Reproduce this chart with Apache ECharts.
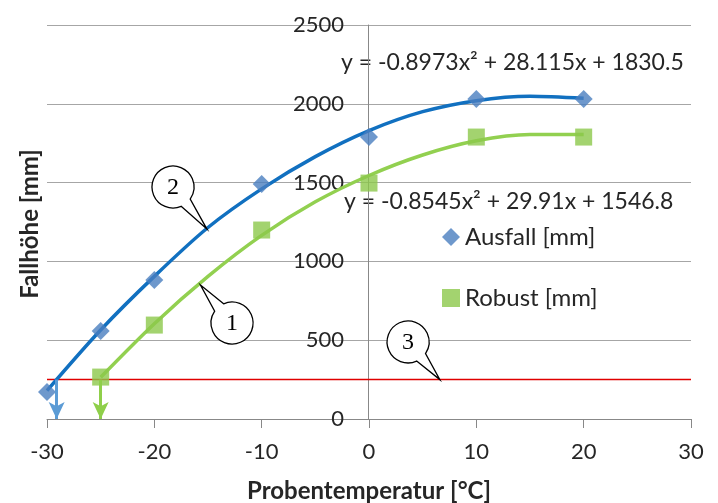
<!DOCTYPE html>
<html>
<head>
<meta charset="utf-8">
<script src="https://cdn.jsdelivr.net/npm/echarts@6/dist/echarts.min.js"></script>
<style>
  html, body { margin: 0; padding: 0; background: #fff; }
  #main { width: 718px; height: 503px; }
</style>
</head>
<body>
<div id="main"></div>
<script>
var temps = [-30, -25, -20, -10, 0, 10, 20];
var ausfall = [171, 558, 882, 1491, 1789, 2030, 2030];
var robustTemps = [-25, -20, -10, 0, 10, 20];
var robust = [266, 596, 1199, 1497, 1789, 1789];
var trendAusfallX = [-30, -25, -20, -15, -10, -5, 0, 5, 10, 15, 20];
var trendAusfall = [180, 565, 905, 1215, 1460, 1665, 1830, 1950, 2020, 2048, 2035];
var trendRobustX = [-25, -20, -15, -10, -5, 0, 5, 10, 15, 20];
var trendRobust = [265, 605, 905, 1165, 1378, 1545, 1675, 1765, 1805, 1805];
var grenze = 250;            // rote Linie
var ausfallGrenzeX = -29.1;  // blauer Pfeil
var robustGrenzeX = -25;     // gruener Pfeil
var eqAusfall = 'y = -0.8973x\u00B2 + 28.115x + 1830.5';
var eqRobust = 'y = -0.8545x\u00B2 + 29.91x + 1546.8';
// Sprechblasen: [Mitte x, Mitte y, Spitze x, Spitze y, Text]
var callouts = [
  [-12.76, 609, -15.7, 850, '1'],
  [-18.26, 1472, -15.1, 1205, '2'],
  [3.64, 489, 6.6, 250, '3']
];

var fontMain = 'Lato, "Open Sans", sans-serif';
var textColor = '#262626';

function pairs(xs, ys) {
  return xs.map(function (x, i) { return [x, ys[i]]; });
}

var chart = echarts.init(document.getElementById('main'));

chart.setOption({
  animation: false,
  textStyle: { fontFamily: fontMain },
  grid: { left: 47, right: 27, top: 25, bottom: 84, containLabel: false, outerBoundsMode: 'none' },
  legend: {
    orient: 'vertical',
    left: 437,
    top: 220,
    itemGap: 37,
    itemWidth: 18,
    itemHeight: 18,
    textStyle: { fontSize: 24, color: textColor, fontFamily: fontMain },
    data: [
      { name: 'Ausfall [mm]', icon: 'diamond' },
      { name: 'Robust [mm]', icon: 'rect' }
    ]
  },
  xAxis: {
    type: 'value',
    min: -30,
    max: 30,
    interval: 10,
    name: 'Probentemperatur [°C]',
    nameLocation: 'middle',
    nameGap: 60,
    nameTextStyle: { fontSize: 24, fontWeight: 'bold', color: textColor, fontFamily: fontMain },
    axisLine: { lineStyle: { color: '#888', width: 1 } },
    axisTick: { show: true, length: 9, lineStyle: { color: '#888' } },
    axisLabel: { fontSize: 22, color: textColor, margin: 22 },
    splitLine: { show: false }
  },
  yAxis: {
    type: 'value',
    min: 0,
    max: 2500,
    interval: 500,
    offset: -321,
    axisLine: { show: true, onZero: false, lineStyle: { color: '#888', width: 1 } },
    axisTick: { show: false },
    axisLabel: {
      fontSize: 22, color: textColor, margin: 24,
      formatter: function (v) { return String(v); }
    },
    splitLine: { lineStyle: { color: '#a6a6a6', width: 1 } }
  },
  graphic: [
    {
      type: 'text', x: 341, y: 63,
      style: { text: eqAusfall, fontSize: 23, fill: textColor, fontFamily: fontMain, verticalAlign: 'middle' }
    },
    {
      type: 'text', x: 344, y: 202,
      style: { text: eqRobust, fontSize: 23, fill: textColor, fontFamily: fontMain, verticalAlign: 'middle' }
    },
    {
      type: 'text', x: 30, y: 224, rotation: Math.PI / 2,
      style: {
        text: 'Fallhöhe [mm]', fontSize: 24, fontWeight: 'bold', fill: textColor,
        fontFamily: fontMain, align: 'center', verticalAlign: 'middle'
      }
    }
  ],
  series: [
    {
      name: 'Grenze',
      type: 'line',
      data: [[-30, grenze], [30, grenze]],
      symbol: 'none',
      lineStyle: { color: '#e00000', width: 1.5 },
      z: 1,
      markLine: {
        silent: true,
        symbol: ['none', 'arrow'],
        symbolSize: [12, 17],
        label: { show: false },
        data: [
          [
            { coord: [ausfallGrenzeX, grenze], lineStyle: { color: '#5b9bd5', width: 3, type: 'solid' } },
            { coord: [ausfallGrenzeX, 0] }
          ],
          [
            { coord: [robustGrenzeX, grenze], lineStyle: { color: '#8fcf4a', width: 3, type: 'solid' } },
            { coord: [robustGrenzeX, 0] }
          ]
        ]
      }
    },
    {
      name: 'Trend Ausfall',
      type: 'line',
      data: pairs(trendAusfallX, trendAusfall),
      smooth: 0.3,
      symbol: 'none',
      lineStyle: { color: '#1170c0', width: 3.5 },
      z: 2
    },
    {
      name: 'Trend Robust',
      type: 'line',
      data: pairs(trendRobustX, trendRobust),
      smooth: 0.3,
      symbol: 'none',
      lineStyle: { color: '#92d050', width: 3.5 },
      z: 2
    },
    {
      name: 'Ausfall [mm]',
      type: 'scatter',
      data: pairs(temps, ausfall),
      symbol: 'diamond',
      symbolSize: 18,
      itemStyle: { color: '#4a7ebf' },
      z: 3
    },
    {
      name: 'Robust [mm]',
      type: 'scatter',
      data: pairs(robustTemps, robust),
      symbol: 'rect',
      symbolSize: 17,
      itemStyle: { color: '#8cc84b' },
      z: 3
    },
    {
      name: 'Callouts',
      type: 'custom',
      data: callouts,
      encode: { x: 0, y: 1 },
      z: 5,
      silent: true,
      renderItem: function (params, api) {
        var c = api.coord([api.value(0), api.value(1)]);
        var t = api.coord([api.value(2), api.value(3)]);
        var r = 21;
        var th = Math.atan2(t[1] - c[1], t[0] - c[0]);
        var d = 0.28;
        var p1 = [c[0] + r * Math.cos(th + d), c[1] + r * Math.sin(th + d)];
        var p2 = [c[0] + r * Math.cos(th - d), c[1] + r * Math.sin(th - d)];
        var path = 'M' + p1[0] + ' ' + p1[1] +
          ' A' + r + ' ' + r + ' 0 1 1 ' + p2[0] + ' ' + p2[1] +
          ' L' + t[0] + ' ' + t[1] + ' Z';
        return {
          type: 'group',
          children: [
            {
              type: 'path',
              shape: { pathData: path },
              style: { fill: '#fff', stroke: '#000', lineWidth: 1.3 }
            },
            {
              type: 'text',
              style: {
                text: callouts[params.dataIndex][4],
                x: c[0], y: c[1] + 1,
                align: 'center', verticalAlign: 'middle',
                fontSize: 24, fontFamily: '"Liberation Serif", "DejaVu Serif", serif',
                fill: '#000'
              }
            }
          ]
        };
      }
    }
  ]
});
</script>
</body>
</html>
